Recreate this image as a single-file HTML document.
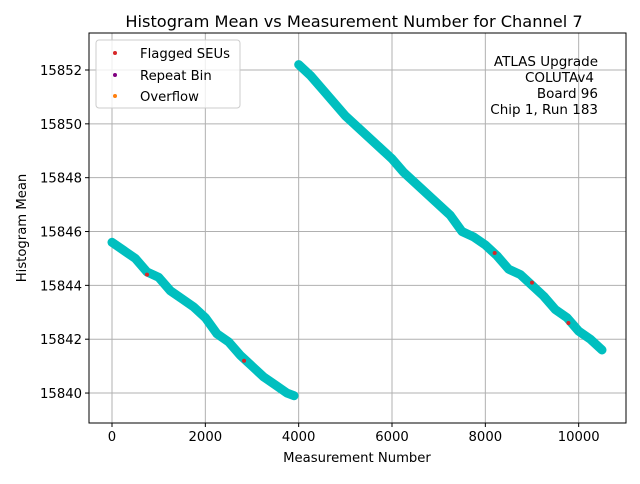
<!DOCTYPE html>
<html><head><meta charset="utf-8"><style>
body{margin:0;background:#fff;font-family:"DejaVu Sans","Liberation Sans",sans-serif}
</style></head><body>
<svg width="640" height="480" xmlns="http://www.w3.org/2000/svg" font-family="DejaVu Sans, Liberation Sans, sans-serif">
<g id="grid"></g>
<g id="series"></g>
<g id="axes"></g>
<text x="354" y="27" font-size="16.2" text-anchor="middle">Histogram Mean vs Measurement Number for Channel 7</text>
<text x="357" y="462" font-size="13.2" text-anchor="middle">Measurement Number</text>
<text transform="translate(26,228) rotate(-90)" font-size="13.2" text-anchor="middle">Histogram Mean</text>
<g font-size="13.5" text-anchor="end">
<text x="598" y="66">ATLAS Upgrade</text><text x="594" y="82">COLUTAv4</text><text x="598" y="98">Board 96</text><text x="598" y="114">Chip 1, Run 183</text></g>
<g>
<rect x="96" y="40" width="144" height="68" rx="3" fill="#fff" fill-opacity="0.8" stroke="#ccc"/>
<circle cx="115" cy="53" r="2" fill="#d62728"/><text x="140" y="58" font-size="13.2">Flagged SEUs</text>
<circle cx="115" cy="75" r="2" fill="#800080"/><text x="140" y="80" font-size="13.2">Repeat Bin</text>
<circle cx="115" cy="96" r="2" fill="#ff7f0e"/><text x="140" y="101" font-size="13.2">Overflow</text>
</g>
</svg>
<script>
const seg1X=[0,250,500,750,1000,1250,1500,1750,2000,2250,2500,2750,3000,3250,3500,3750,3900];
const seg1Y=[15845.6,15845.3,15845.0,15844.5,15844.3,15843.8,15843.5,15843.2,15842.8,15842.2,15841.9,15841.4,15841.0,15840.6,15840.3,15840.0,15839.9];
const seg2X=[4000,4250,4500,4750,5000,5250,5500,5750,6000,6250,6500,6750,7000,7250,7500,7750,8000,8250,8500,8750,9000,9250,9500,9750,10000,10250,10500];
const seg2Y=[15852.2,15851.8,15851.3,15850.8,15850.3,15849.9,15849.5,15849.1,15848.7,15848.2,15847.8,15847.4,15847.0,15846.6,15846.0,15845.8,15845.5,15845.1,15844.6,15844.4,15844.0,15843.6,15843.1,15842.8,15842.3,15842.0,15841.6];
const flagX=[750,2830,8200,9000,9780];
const flagY=[15844.4,15841.2,15845.2,15844.1,15842.6];
const xTicks=[0,2000,4000,6000,8000,10000];
const yTicks=[15840,15842,15844,15846,15848,15850,15852];
const NS="http://www.w3.org/2000/svg";
const L=89,R=626,T=33,B=423;
const sx=v=>112+v*0.046667;
const sy=v=>70+(15852-v)*26.92;
function mk(tag,attrs,parent){const e=document.createElementNS(NS,tag);for(const k in attrs)e.setAttribute(k,attrs[k]);parent.appendChild(e);return e;}
const grid=document.getElementById('grid'),ser=document.getElementById('series'),ax=document.getElementById('axes');
xTicks.forEach(t=>{const x=sx(t);
 const g=mk('line',{x1:x,x2:x,y1:T,y2:B,stroke:'#b0b0b0','stroke-width':1},grid);
 
 
 mk('line',{x1:x,x2:x,y1:B,y2:B+4,stroke:'#000'},ax);
 const tx=mk('text',{x:x,y:B+18,'font-size':13.2,'text-anchor':'middle'},ax);tx.textContent=t;
 
 });
yTicks.forEach(t=>{const y=sy(t);
 const g=mk('line',{x1:L,x2:R,y1:y,y2:y,stroke:'#b0b0b0','stroke-width':1},grid);
 
 
 mk('line',{x1:L-4,x2:L,y1:y,y2:y,stroke:'#000'},ax);
 const tx=mk('text',{x:L-7,y:y+5,'font-size':13.2,'text-anchor':'end'},ax);tx.textContent=t;
 
 });
const fr=mk('rect',{x:L,y:T,width:R-L,height:B-T,fill:'none',stroke:'#000','stroke-width':1},ax);


[[seg1X,seg1Y],[seg2X,seg2Y]].forEach(([xs,ys],i)=>{
 const pts=xs.map((x,j)=>sx(x)+','+sy(ys[j])).join(' ');
 const pl=mk('polyline',{points:pts,fill:'none',stroke:'#00bfbf','stroke-width':9,'stroke-linejoin':'round','stroke-linecap':'round'},ser);
 
 
 xs.forEach((x,j)=>{const c=mk('circle',{cx:sx(x),cy:sy(ys[j]),r:2.5,fill:'#00bfbf'},ser);
  
  });
});
flagX.forEach((x,j)=>{const c=mk('circle',{cx:sx(x),cy:sy(flagY[j]),r:2,fill:'#d62728'},ser);
 
 });
</script>
</body></html>
